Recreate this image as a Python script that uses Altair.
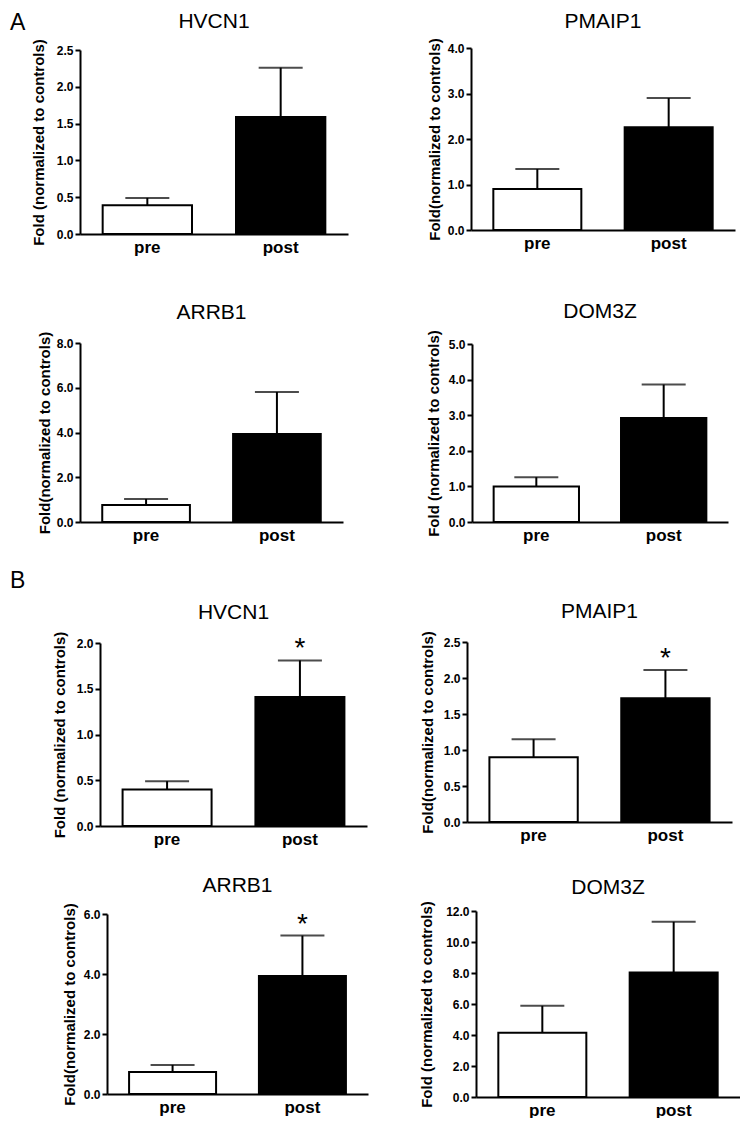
import altair as alt
import pandas as pd

FONT = "Liberation Sans"

# ---------------- data ----------------
genes = ["HVCN1", "PMAIP1", "ARRB1", "DOM3Z", "HVCN1", "PMAIP1", "ARRB1", "DOM3Z"]
conditions = ["pre", "post"]
mean_pre = [0.39, 0.90, 0.76, 1.00, 0.40, 0.90, 0.73, 4.15]
mean_post = [1.59, 2.26, 3.93, 2.92, 1.41, 1.72, 3.93, 8.03]
upper_pre = [0.49, 1.34, 1.03, 1.26, 0.49, 1.15, 0.97, 5.88]
upper_post = [2.26, 2.90, 5.81, 3.86, 1.81, 2.11, 5.28, 11.30]
sig_post = ["", "", "", "", "*", "*", "*", ""]
y_max = [2.5, 4.0, 8.0, 5.0, 2.0, 2.5, 6.0, 12.0]
y_ticks = [
    [0.0, 0.5, 1.0, 1.5, 2.0, 2.5],
    [0.0, 1.0, 2.0, 3.0, 4.0],
    [0.0, 2.0, 4.0, 6.0, 8.0],
    [0.0, 1.0, 2.0, 3.0, 4.0, 5.0],
    [0.0, 0.5, 1.0, 1.5, 2.0],
    [0.0, 0.5, 1.0, 1.5, 2.0, 2.5],
    [0.0, 2.0, 4.0, 6.0],
    [0.0, 2.0, 4.0, 6.0, 8.0, 10.0, 12.0],
]
y_titles = [
    "Fold (normalized to controls)",
    "Fold(normalized to controls)",
    "Fold(normalized to controls)",
    "Fold (normalized to controls)",
    "Fold (normalized to controls)",
    "Fold(normalized to controls)",
    "Fold(normalized to controls)",
    "Fold (normalized to controls)",
]
section_labels = ["A", "B"]

# ---------------- layout (page pixel targets) ----------------
ORIGIN_X = 10
plot_left = [80, 471, 80, 472, 100, 467, 107, 476]
plot_w = [268, 264, 263, 256, 267, 265, 261, 264]
plot_top = [49, 47, 342, 343, 642, 641, 913, 910]
plot_bottom = [233, 229, 521, 521, 825, 821, 1093, 1096]
title_base = [26.7, 26.7, 318, 317, 618, 617, 891, 893]
title_pad = [10, 5, 4, 7, 9, 8, 6, 11]
row_top = [17, 312, 611, 880]
row_h = [295, 299, 269, 216]
col1_x = 80
col3_x = 467
col2_w = col3_x - col1_x - 288
label_base = [28.5, 587]
TITLE_FS = 21
LETTER_FS = 23


def panel(i, r, col_x):
    T, H = row_top[r], row_h[r]
    d = plot_left[i] - col_x
    w = plot_w[i]
    top_rel = plot_top[i] - T
    bot_rel = plot_bottom[i] - T
    df = pd.DataFrame({
        "cond": conditions,
        "mean": [mean_pre[i], mean_post[i]],
        "upper": [upper_pre[i], upper_post[i]],
        "sig": ["", sig_post[i]],
    })
    base = alt.Chart(df)
    xenc = alt.X(
        "cond:N", sort=conditions,
        scale=alt.Scale(paddingInner=0.33, paddingOuter=0.17, range=[d, d + w]),
        axis=alt.Axis(ticks=False, labelAngle=0, labelFontSize=17,
                      labelFontWeight="bold", labelPadding=5, title=None,
                      offset=-(H - bot_rel)),
    )
    yscale = alt.Scale(domain=[0, y_max[i]], nice=False, range=[bot_rel, top_rel])
    yaxis = alt.Axis(values=y_ticks[i], format=".1f", title=y_titles[i],
                     titleFontSize=15, titleFontWeight="bold",
                     labelFontSize=12, labelFontWeight="bold",
                     tickSize=5, labelPadding=2, titlePadding=title_pad[i],
                     offset=-d)
    bars = base.mark_bar(stroke="black", strokeWidth=2).encode(
        x=xenc,
        y=alt.Y("mean:Q", scale=yscale, axis=yaxis, title=y_titles[i]),
        fill=alt.Fill("cond:N", scale=alt.Scale(domain=conditions, range=["white", "black"]), legend=None),
    )
    whisker = base.mark_rule(color="black", strokeWidth=2).encode(
        x=xenc,
        y=alt.Y("mean:Q", scale=yscale, axis=yaxis, title=y_titles[i]),
        y2="upper:Q",
    )
    cap = base.mark_tick(color="black", thickness=2, size=44).encode(
        x=xenc,
        y=alt.Y("upper:Q", scale=yscale, axis=yaxis, title=y_titles[i]),
    )
    star = base.transform_filter(alt.datum.sig != "").mark_text(
        fontSize=28, baseline="alphabetic", dy=-3, color="black", font=FONT
    ).encode(
        x=xenc,
        y=alt.Y("upper:Q", scale=yscale, axis=yaxis, title=y_titles[i]),
        text="sig:N",
    )
    return alt.layer(bars, whisker, cap, star).properties(
        width=d + w, height=H,
        title=alt.TitleParams(genes[i], fontSize=TITLE_FS, fontWeight="normal", font=FONT,
                              baseline="alphabetic", anchor="middle", frame="group",
                              offset=T - TITLE_FS - title_base[i], dx=d / 2, color="black"),
    )


def spacer(w, h, label=None, offset=0):
    dd = pd.DataFrame({"v": [0]})
    c = alt.Chart(dd).mark_point(size=0, opacity=0).encode(
        x=alt.X("v:Q", axis=None, scale=alt.Scale(domain=[-1, 1])),
        y=alt.Y("v:Q", axis=None, scale=alt.Scale(domain=[-1, 1])),
    )
    if label is not None:
        return c.properties(width=w, height=h, title=alt.TitleParams(
            label, fontSize=LETTER_FS, fontWeight="normal", font=FONT, anchor="start",
            frame="group", baseline="alphabetic", offset=offset, color="black"))
    return c.properties(width=w, height=h)


cells = []
for r in range(4):
    i1, i2 = 2 * r, 2 * r + 1
    if r == 0:
        cells.append(spacer(col1_x - ORIGIN_X, 1, section_labels[0],
                            row_top[r] - LETTER_FS - label_base[0]))
    elif r == 2:
        cells.append(spacer(col1_x - ORIGIN_X, 1, section_labels[1],
                            row_top[r] - LETTER_FS - label_base[1]))
    else:
        cells.append(spacer(col1_x - ORIGIN_X, 1))
    cells.append(panel(i1, r, col1_x))
    cells.append(spacer(col2_w, 1))
    cells.append(panel(i2, r, col3_x))

chart = alt.concat(*cells, columns=4, spacing=0, bounds="flush", align="each").properties(
    padding={"left": 2, "top": 2, "right": 0, "bottom": 0}
).configure_axis(
    domainColor="black", domainWidth=2, tickColor="black", tickWidth=2,
    labelColor="black", titleColor="black", grid=False,
    labelFont=FONT, titleFont=FONT,
).configure_view(strokeWidth=0).configure_title(font=FONT, color="black")

chart.save("out.html", embed_options={"renderer": "svg", "actions": False})
